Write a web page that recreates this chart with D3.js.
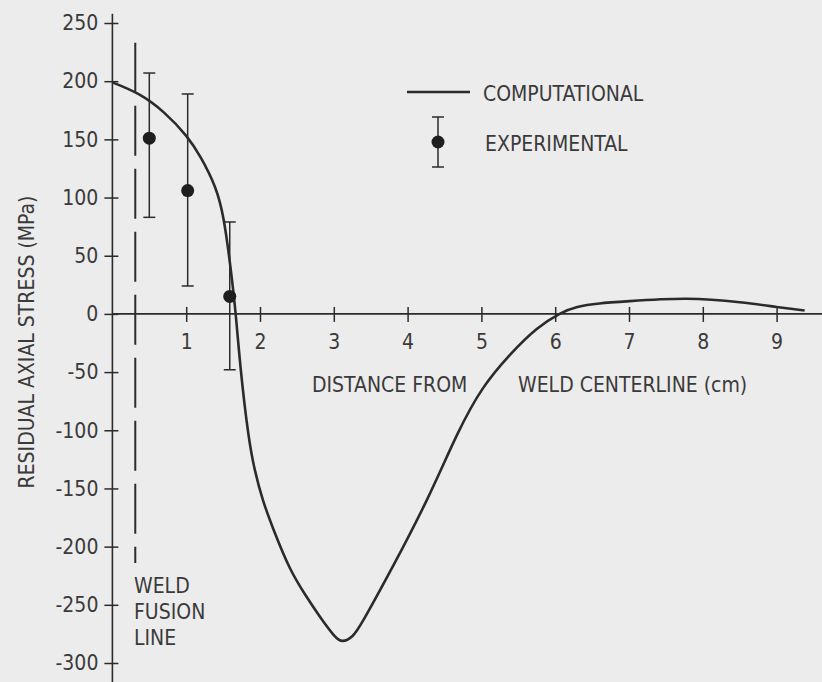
<!DOCTYPE html>
<html>
<head>
<meta charset="utf-8">
<script src="https://cdn.jsdelivr.net/npm/d3@7"></script>
<style>
  body { margin: 0; background: #ececec; }
  svg { display: block; }
  text { font-family: "Liberation Sans Narrow", "DejaVu Sans Condensed", "Liberation Sans", sans-serif; fill: #3a3a3a; }
</style>
</head>
<body>
<div class="graphic"></div>
<script>
// computational curve, distance (cm) vs residual axial stress (MPa)
var compDist = [0, 0.35, 0.70, 1.00, 1.20, 1.39, 1.51, 1.60, 1.67, 1.74, 1.84, 1.93, 2.04, 2.20, 2.41, 2.62, 2.81, 3.00, 3.12, 3.25, 3.42, 3.80, 4.26, 4.67, 5.02, 5.39, 5.75, 6.06, 6.30, 6.60, 7.01, 7.78, 8.50, 9.00, 9.38];
var compStress = [199, 189, 173, 153, 134, 109, 80, 40, 0, -48, -102, -134, -160, -188, -219, -242, -260, -276, -281, -277, -261, -217, -160, -104, -64, -35, -13, 0, 6, 9, 11, 13, 10, 6, 3];

// experimental points with error bars
var expDist = [0.5, 1.02, 1.59];
var expStress = [151, 106, 15];
var expHigh = [207, 189, 79];
var expLow = [83, 24, -48];

// weld fusion line
var fusionDist = 0.31;
var fusionTop = 233, fusionBottom = -214;

var xTicks = [1, 2, 3, 4, 5, 6, 7, 8, 9];
var yTicks = [250, 200, 150, 100, 50, 0, -50, -100, -150, -200, -250, -300];

var width = 822, height = 682;
var ink = "#2b2b2b";

var svg = d3.select(".graphic").append("svg")
    .attr("width", width)
    .attr("height", height);

var x = d3.scaleLinear().domain([0, 9]).range([112.4, 776.6]);
var y = d3.scaleLinear().domain([250, -300]).range([23, 663]);

// axis lines (they run past the ticks, to the page edge)
svg.append("line")
    .attr("x1", x(0)).attr("x2", x(0))
    .attr("y1", y(258)).attr("y2", height)
    .attr("stroke", ink).attr("stroke-width", 1.6);
svg.append("line")
    .attr("x1", x(0)).attr("x2", width)
    .attr("y1", y(0)).attr("y2", y(0))
    .attr("stroke", ink).attr("stroke-width", 1.6);

// y axis
var yAxis = svg.append("g")
    .attr("transform", "translate(" + x(0) + ",0)")
    .call(d3.axisLeft(y).tickValues(yTicks).tickSize(8).tickPadding(6)
        .tickFormat(function(d) { return String(d); }));
yAxis.select(".domain").remove();
yAxis.selectAll(".tick line").attr("x1", 6).attr("stroke", ink).attr("stroke-width", 1.5);
yAxis.selectAll(".tick text").attr("font-size", 21).attr("fill", "#3a3a3a");

// x axis
var xAxis = svg.append("g")
    .attr("transform", "translate(0," + y(0) + ")")
    .call(d3.axisBottom(x).tickValues(xTicks).tickSize(8).tickPadding(12));
xAxis.select(".domain").remove();
xAxis.selectAll(".tick line").attr("y1", -7).attr("stroke", ink).attr("stroke-width", 1.5);
xAxis.selectAll(".tick text").attr("font-size", 21).attr("fill", "#3a3a3a");
svg.selectAll(".tick text").attr("font-family", null);

// weld fusion line, dashed
svg.append("line")
    .attr("x1", x(fusionDist)).attr("x2", x(fusionDist))
    .attr("y1", y(fusionTop)).attr("y2", y(fusionBottom))
    .attr("stroke", ink).attr("stroke-width", 2)
    .attr("stroke-dasharray", "50,13");

// computational curve
var compData = compDist.map(function(d, i) { return {dist: d, stress: compStress[i]}; });
var valueLine = d3.line()
    .x(function(d) { return x(d.dist); })
    .y(function(d) { return y(d.stress); })
    .curve(d3.curveNatural);
svg.append("path")
    .datum(compData)
    .attr("d", valueLine)
    .attr("fill", "none")
    .attr("stroke", ink)
    .attr("stroke-width", 2.6);

// experimental error bars
var expData = expDist.map(function(d, i) {
  return {dist: d, stress: expStress[i], hi: expHigh[i], lo: expLow[i]};
});
var bars = svg.selectAll(".exp").data(expData).enter().append("g").attr("class", "exp");
bars.append("line")
    .attr("x1", function(d) { return x(d.dist); })
    .attr("x2", function(d) { return x(d.dist); })
    .attr("y1", function(d) { return y(d.hi); })
    .attr("y2", function(d) { return y(d.lo); })
    .attr("stroke", ink).attr("stroke-width", 1.5);
bars.append("line")
    .attr("x1", function(d) { return x(d.dist) - 6; })
    .attr("x2", function(d) { return x(d.dist) + 6; })
    .attr("y1", function(d) { return y(d.hi); })
    .attr("y2", function(d) { return y(d.hi); })
    .attr("stroke", ink).attr("stroke-width", 1.5);
bars.append("line")
    .attr("x1", function(d) { return x(d.dist) - 6; })
    .attr("x2", function(d) { return x(d.dist) + 6; })
    .attr("y1", function(d) { return y(d.lo); })
    .attr("y2", function(d) { return y(d.lo); })
    .attr("stroke", ink).attr("stroke-width", 1.5);
bars.append("circle")
    .attr("cx", function(d) { return x(d.dist); })
    .attr("cy", function(d) { return y(d.stress); })
    .attr("r", 6.5)
    .attr("fill", "#1e1e1e");

// axis titles
svg.append("text")
    .attr("transform", "translate(34,342) rotate(-90)")
    .attr("text-anchor", "middle")
    .attr("font-size", 21)
    .text("RESIDUAL AXIAL STRESS (MPa)");
svg.append("text")
    .attr("x", 312).attr("y", 392)
    .attr("font-size", 21)
    .text("DISTANCE FROM");
svg.append("text")
    .attr("x", 518).attr("y", 392)
    .attr("font-size", 21)
    .text("WELD CENTERLINE (cm)");

// weld fusion line label
["WELD", "FUSION", "LINE"].forEach(function(t, i) {
  svg.append("text")
      .attr("x", 134).attr("y", 593 + i * 26)
      .attr("font-size", 21)
      .text(t);
});

// legend
svg.append("line")
    .attr("x1", 407).attr("x2", 470).attr("y1", 92).attr("y2", 92)
    .attr("stroke", ink).attr("stroke-width", 2.4);
svg.append("text").attr("x", 483).attr("y", 101).attr("font-size", 21).text("COMPUTATIONAL");
svg.append("line")
    .attr("x1", 438).attr("x2", 438).attr("y1", 117).attr("y2", 167)
    .attr("stroke", ink).attr("stroke-width", 1.5);
svg.append("line")
    .attr("x1", 432).attr("x2", 444).attr("y1", 117).attr("y2", 117)
    .attr("stroke", ink).attr("stroke-width", 1.5);
svg.append("line")
    .attr("x1", 432).attr("x2", 444).attr("y1", 167).attr("y2", 167)
    .attr("stroke", ink).attr("stroke-width", 1.5);
svg.append("circle").attr("cx", 438).attr("cy", 142).attr("r", 6.5).attr("fill", "#1e1e1e");
svg.append("text").attr("x", 485).attr("y", 151).attr("font-size", 21).text("EXPERIMENTAL");
</script>
</body>
</html>
